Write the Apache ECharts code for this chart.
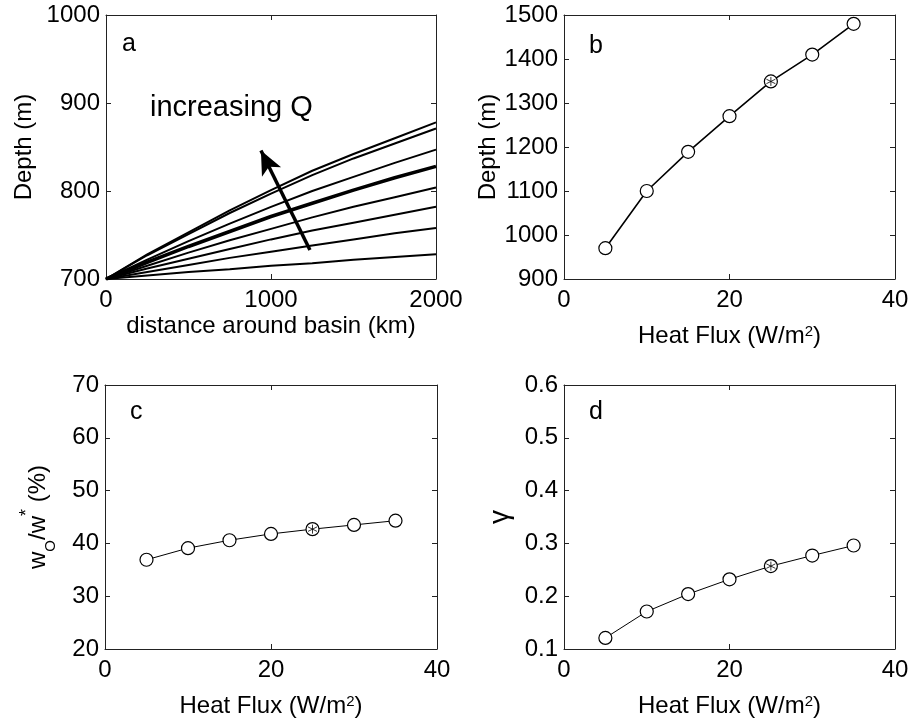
<!DOCTYPE html>
<html>
<head>
<meta charset="utf-8">
<script src="https://cdn.jsdelivr.net/npm/echarts@6/dist/echarts.min.js"></script>
<style>
  html, body { margin: 0; padding: 0; background: #fff; }
  #chart { width: 912px; height: 719px; }
</style>
</head>
<body>
<div id="chart"></div>
<script>
// panel a: depth along the basin edge, one line per heat flux
const distKm = [0, 250, 500, 750, 1000, 1250, 1500, 1750, 2000]
const depthQ35 = [700, 728, 753, 778, 801, 823, 842, 860, 878]
const depthQ30 = [700, 727, 751, 775, 797, 818, 837, 854, 871]
const depthQ25 = [700, 722, 743, 763, 782, 800, 816, 832, 847]
const depthQref = [700, 719, 737, 754, 771, 786, 801, 815, 828]
const depthQ15 = [700, 715, 730, 744, 757, 770, 782, 793, 804]
const depthQ10 = [700, 712, 723, 734, 745, 755, 764, 773, 782]
const depthQ5 = [700, 708, 716, 724, 731, 738, 745, 752, 758]
const depthQ1 = [700, 704, 708, 711, 715, 718, 722, 725, 728]
const arrowFrom = [1236, 733]
const arrowTo = [939, 846]

// panels b, c, d: against surface heat flux
const heatFlux = [5, 10, 15, 20, 25, 30, 35]
const depthB = [970, 1100, 1189, 1270, 1349, 1410, 1480]
const woRatio = [36.9, 39.1, 40.6, 41.8, 42.7, 43.5, 44.3]
const gammaD = [0.121, 0.171, 0.204, 0.232, 0.257, 0.277, 0.296]
const refIndex = 4 // the 25 W/m2 run, marked with *

const FONT = "Liberation Sans, Arial, Helvetica, sans-serif"
const INK = "#000"
const FRAME = "#222"

const grids = [
  { left: 106, top: 15, width: 330, height: 264 },
  { left: 564, top: 15, width: 331, height: 264 },
  { left: 105, top: 385, width: 332, height: 264 },
  { left: 564, top: 385, width: 331, height: 264 },
]

const supStyle = { fontFamily: FONT, fontSize: 15, color: INK, verticalAlign: "top", lineHeight: 16 }

let xAxes = []
let yAxes = []

function frame(gi, xr, yr, xName, xGap, yName, yGap, yStyle) {
  let tick = { show: true, inside: true, length: 5, lineStyle: { color: FRAME, width: 1 } }
  let line = { show: true, onZero: false, lineStyle: { color: FRAME, width: 1 } }
  let label = { show: true, color: INK, fontFamily: FONT, fontSize: 24, formatter: v => String(+v.toFixed(3)) }
  xAxes.push({
    type: "value", gridIndex: gi, position: "bottom",
    min: xr[0], max: xr[1], interval: xr[2],
    axisLine: line, axisTick: tick, splitLine: { show: false },
    axisLabel: Object.assign({ margin: 9 }, label),
    name: xName, nameLocation: "middle", nameGap: xGap,
    nameTextStyle: { color: INK, fontFamily: FONT, fontSize: 24, rich: { sup: supStyle } },
  })
  xAxes.push({
    type: "value", gridIndex: gi, position: "top",
    min: xr[0], max: xr[1], interval: xr[2],
    axisLine: line, axisTick: tick, splitLine: { show: false },
    axisLabel: { show: false },
  })
  yAxes.push({
    type: "value", gridIndex: gi, position: "left",
    min: yr[0], max: yr[1], interval: yr[2],
    axisLine: line, axisTick: tick, splitLine: { show: false },
    axisLabel: Object.assign({ margin: 6 }, label),
    name: yName, nameLocation: "middle", nameGap: yGap, nameRotate: 90,
    nameTextStyle: Object.assign({ color: INK, fontFamily: FONT, fontSize: 24 }, yStyle || {}),
  })
  yAxes.push({
    type: "value", gridIndex: gi, position: "right",
    min: yr[0], max: yr[1], interval: yr[2],
    axisLine: line, axisTick: tick, splitLine: { show: false },
    axisLabel: { show: false },
  })
}

const fluxName = "Heat Flux (W/m{sup|2})"
frame(0, [0, 2000, 1000], [700, 1000, 100], "distance around basin (km)", 35, "Depth (m)", 70)
frame(1, [0, 40, 20], [900, 1500, 100], fluxName, 45, "Depth (m)", 64)
frame(2, [0, 40, 20], [20, 70, 10], fluxName, 45, "w{sub|O}/w{sup|*} (%)", 47, {
  lineHeight: 40,
  rich: {
    sub: { fontFamily: FONT, fontSize: 15, color: INK, verticalAlign: "bottom", lineHeight: 15 },
    sup: { fontFamily: FONT, fontSize: 18, color: INK, verticalAlign: "top", lineHeight: 34 },
  },
})
frame(3, [0, 40, 20], [0.1, 0.6, 0.1], fluxName, 45, "γ", 50, { fontSize: 28 })

function zipXY(xs, ys) {
  return xs.map((x, i) => [x, ys[i]])
}

let series = []

const depthLines = [depthQ35, depthQ30, depthQ25, depthQref, depthQ15, depthQ10, depthQ5, depthQ1]
depthLines.forEach(ys => {
  series.push({
    type: "line", xAxisIndex: 0, yAxisIndex: 0,
    data: zipXY(distKm, ys), showSymbol: false,
    lineStyle: { color: INK, width: ys === depthQref ? 3.6 : 2 },
    z: 2,
  })
})
// arrow showing increasing Q
series[0].markLine = {
  silent: true, symbol: ["none", "arrow"], symbolSize: [16, 24],
  label: { show: false },
  lineStyle: { color: INK, width: 3.5, type: "solid" },
  data: [[{ coord: arrowFrom }, { coord: arrowTo }]],
}

const asterisk = "path://M5,0L5,10M0.67,2.5L9.33,7.5M0.67,7.5L9.33,2.5"

function fluxPanel(gi, ys, width) {
  series.push({
    type: "line", xAxisIndex: gi * 2, yAxisIndex: gi * 2,
    data: zipXY(heatFlux, ys),
    symbol: "circle", symbolSize: 13, showAllSymbol: true,
    lineStyle: { color: INK, width: width },
    itemStyle: { color: "#fff", borderColor: INK, borderWidth: 1.2 },
    z: 2,
  })
  series.push({
    type: "scatter", xAxisIndex: gi * 2, yAxisIndex: gi * 2,
    data: [[heatFlux[refIndex], ys[refIndex]]],
    symbol: asterisk, symbolSize: 9,
    itemStyle: { color: "transparent", borderColor: INK, borderWidth: 1 },
    z: 3,
  })
}
fluxPanel(1, depthB, 1.6)
fluxPanel(2, woRatio, 1)
fluxPanel(3, gammaD, 1)

function tag(text, x, y, size) {
  return {
    type: "text", left: x, top: y,
    style: { text: text, fill: INK, font: size + "px " + FONT },
  }
}

const chart = echarts.init(document.getElementById("chart"), null, { renderer: "canvas" })
chart.setOption({
  animation: false,
  backgroundColor: "#fff",
  grid: grids,
  xAxis: xAxes,
  yAxis: yAxes,
  series: series,
  graphic: [
    tag("a", 122, 32, 25),
    tag("b", 589, 34, 25),
    tag("c", 130, 400, 25),
    tag("d", 589, 400, 25),
    tag("increasing Q", 150, 93, 29),
  ],
})
</script>
</body>
</html>
